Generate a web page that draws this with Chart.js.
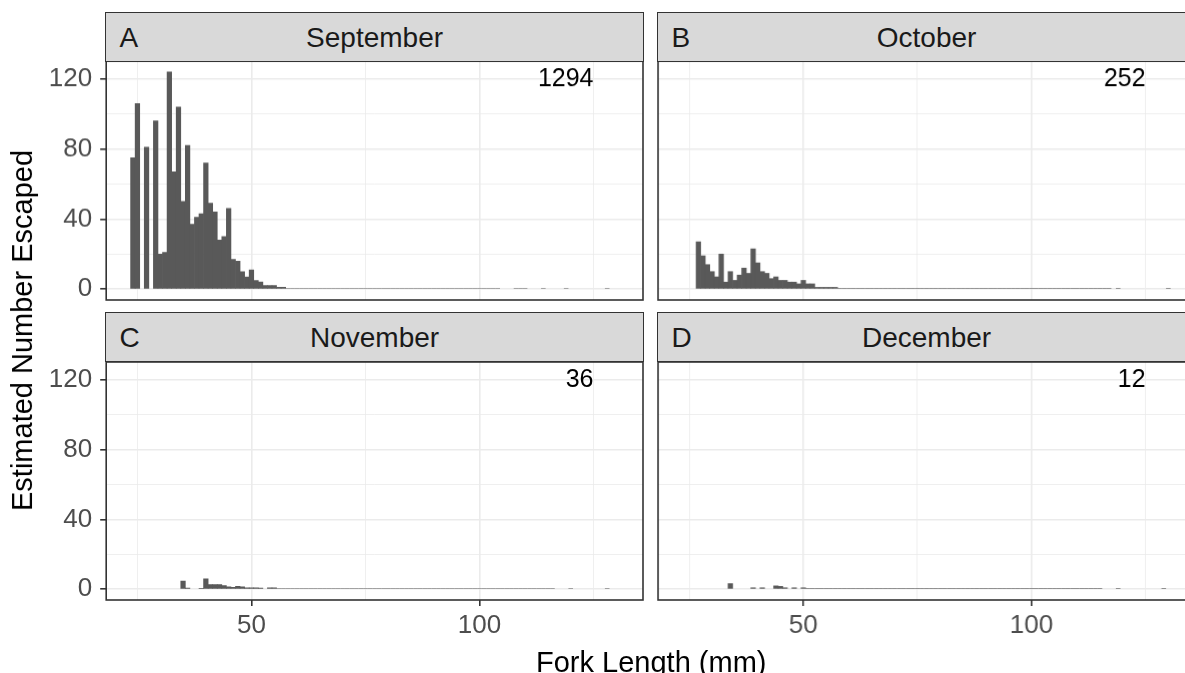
<!DOCTYPE html>
<html>
<head>
<meta charset="utf-8">
<script src="https://cdn.jsdelivr.net/npm/chart.js@4.4.0/dist/chart.umd.min.js"></script>
<style>
html,body{margin:0;padding:0;width:1185px;height:673px;overflow:hidden;background:#ffffff;font-family:"Liberation Sans",Arial,Helvetica,sans-serif;}
canvas{position:absolute;}
.strip{position:absolute;background:#D9D9D9;border:1.6px solid #333333;box-sizing:border-box;color:#1A1A1A;font-size:28px;line-height:28px;display:flex;align-items:center;justify-content:center;padding-top:2px;}
.strip .letter{position:absolute;left:13px;top:50%;transform:translateY(-50%);margin-top:1px;}
.title{position:absolute;color:#000;font-size:29px;line-height:29px;white-space:nowrap;}
</style>
</head>
<body>
<script>
// ---------- data ----------
const monthNames   = ['September', 'October', 'November', 'December'];
const panelLetters = ['A', 'B', 'C', 'D'];
const monthTotals  = [1294, 252, 36, 12];

const xGridValues = [25, 50, 75, 100, 125];
const xTickLabels = [50, 100];
const yGridValues = [0, 20, 40, 60, 80, 100, 120];
const yTickLabels = [0, 40, 80, 120];

const septLength = [24,25,27,29,30,31,32,33,34,35,36,37,38,39,40,41,42,43,44,45,46,47,48,49,50,51,52,53,54,55,56,57];
const septCount  = [75,106,81,96,20,21,124,67,104,50,82,37,41,43,72,49,44,28,30,46,17,16,10,7,11,5,4,2,2,2,1,1];
const septTailLength = [58,59,60,61,62,63,64,65,66,67,68,69,70,71,72,73,74,75,76,77,78,79,80,81,82,83,84,85,86,87,88,89,90,91,92,93,94,95,96,97,98,99,100,101,102,103,104,108,109,110,114,119,128];
const septTailCount  = [0.1,0.1,0.1,0.1,0.1,0.1,0.1,0.1,0.1,0.1,0.1,0.1,0.1,0.1,0.1,0.1,0.1,0.1,0.1,0.1,0.1,0.1,0.1,0.1,0.1,0.1,0.1,0.1,0.1,0.1,0.1,0.1,0.1,0.1,0.1,0.1,0.1,0.1,0.1,0.1,0.1,0.1,0.1,0.1,0.1,0.1,0.1,0.1,0.1,0.1,0.1,0.1,0.1];

const octLength = [27,28,29,30,31,32,33,34,35,36,37,38,39,40,41,42,43,44,45,46,47,48,49,50,51,52,53,54,55,56,57];
const octCount  = [27,19,14,10,7,20,4,10,5,8,12,9,23,15,10,9,6,7,5,5,4,4,3,5,3,3,1,1,1,1,1];
const octTailLength = [58,59,60,61,62,63,64,65,66,67,68,69,70,71,72,73,74,75,76,77,78,79,80,81,82,83,84,85,86,87,88,89,90,91,92,93,94,95,96,97,98,99,100,101,102,103,104,105,106,107,108,109,110,111,112,113,114,115,116,117,119,130];
const octTailCount  = [0.1,0.1,0.1,0.1,0.1,0.1,0.1,0.1,0.1,0.1,0.1,0.1,0.1,0.1,0.1,0.1,0.1,0.1,0.1,0.1,0.1,0.1,0.1,0.1,0.1,0.1,0.1,0.1,0.1,0.1,0.1,0.1,0.1,0.1,0.1,0.1,0.1,0.1,0.1,0.1,0.1,0.1,0.1,0.1,0.1,0.1,0.1,0.1,0.1,0.1,0.1,0.1,0.1,0.1,0.1,0.1,0.1,0.1,0.1,0.1,0.1,0.1];

const novLength = [35,36,39,40,41,42,43,44,45,46,47,48,49,50,51,52,54,55];
const novCount  = [4.6,0.6,0.5,5.9,2.7,2.7,2.7,2.1,1.3,1.0,1.7,1.3,0.8,0.8,0.8,0.6,0.8,0.8];
const novTailLength = [56,57,58,59,60,61,62,63,64,65,66,67,68,69,70,71,72,73,74,75,76,77,78,79,80,81,82,83,84,85,86,87,88,89,90,91,92,93,94,95,96,97,98,99,100,101,102,103,104,105,106,107,108,109,110,111,112,113,114,115,116,120,128];
const novTailCount  = [0.1,0.1,0.1,0.1,0.1,0.1,0.1,0.1,0.1,0.1,0.1,0.1,0.1,0.1,0.1,0.1,0.1,0.1,0.1,0.1,0.1,0.1,0.1,0.1,0.1,0.1,0.1,0.1,0.1,0.1,0.1,0.1,0.1,0.1,0.1,0.1,0.1,0.1,0.1,0.1,0.1,0.1,0.1,0.1,0.1,0.1,0.1,0.1,0.1,0.1,0.1,0.1,0.1,0.1,0.1,0.1,0.1,0.1,0.1,0.1,0.1,0.1,0.1];

const decLength = [34,39,41,44,45,46,48,50];
const decCount  = [3.2,0.8,0.8,1.9,1.6,0.8,0.8,0.8];
const decTailLength = [51,52,53,54,55,56,57,58,59,60,61,62,63,64,65,66,67,68,69,70,71,72,73,74,75,76,77,78,79,80,81,82,83,84,85,86,87,88,89,90,91,92,93,94,95,96,97,98,99,100,101,102,103,104,105,106,107,108,109,110,111,112,113,114,115,119,129];
const decTailCount  = [0.1,0.1,0.1,0.1,0.1,0.1,0.1,0.1,0.1,0.1,0.1,0.1,0.1,0.1,0.1,0.1,0.1,0.1,0.1,0.1,0.1,0.1,0.1,0.1,0.1,0.1,0.1,0.1,0.1,0.1,0.1,0.1,0.1,0.1,0.1,0.1,0.1,0.1,0.1,0.1,0.1,0.1,0.1,0.1,0.1,0.1,0.1,0.1,0.1,0.1,0.1,0.1,0.1,0.1,0.1,0.1,0.1,0.1,0.1,0.1,0.1,0.1,0.1,0.1,0.1,0.1,0.1];

// ---------- layout / style ----------
const X_MIN = 18.15, X_MAX = 135.85;
const Y_MIN = -6.2,  Y_MAX = 130.2;
const ANNOT_X = 125, ANNOT_Y = 120;
const FONT = '"Liberation Sans", Arial, Helvetica, sans-serif';
const colLeft = [106.2, 658.2];
const panelW = 536.8;
const rowTop = [61.2, 361.5];
const panelH = 238.5;
const stripH = 49.5;
const PAD = 8;

const borderPlugin = {
  id: 'panelBorder',
  afterDraw(chart) {
    const a = chart.chartArea, ctx = chart.ctx;
    ctx.save();
    ctx.strokeStyle = '#333333';
    ctx.lineWidth = 1.6;
    ctx.strokeRect(a.left, a.top, a.right - a.left, a.bottom - a.top);
    ctx.restore();
  }
};
const annotPlugin = {
  id: 'totalLabel',
  afterDatasetsDraw(chart, args, opts) {
    const ctx = chart.ctx;
    const x = chart.scales.x.getPixelForValue(ANNOT_X);
    const y = chart.scales.y.getPixelForValue(ANNOT_Y);
    ctx.save();
    ctx.fillStyle = '#000000';
    ctx.font = '25px ' + FONT;
    ctx.textAlign = 'right';
    ctx.textBaseline = 'middle';
    ctx.fillText(String(opts.text), x, y);
    ctx.restore();
  }
};

function zeroPad(s) { s.paddingTop = 0; s.paddingBottom = 0; s.paddingLeft = 0; s.paddingRight = 0; }

function makePanel(i, lengths, counts, tailLengths, tailCounts) {
  const col = i % 2, row = Math.floor(i / 2);
  const showY = col === 0, showX = row === 1;
  const cv = document.createElement('canvas');
  const left = col === 0 ? 0 : colLeft[col] - PAD;
  const yW = col === 0 ? colLeft[0] : 0;
  const padL = col === 0 ? 0 : PAD;
  const width = padL + yW + panelW + PAD;
  const xH = showX ? 60 : 0;
  const height = PAD + panelH + (showX ? xH : PAD);
  cv.width = width; cv.height = height;
  cv.style.left = left + 'px';
  cv.style.top = (rowTop[row] - PAD) + 'px';
  cv.style.width = width + 'px'; cv.style.height = height + 'px';
  document.body.appendChild(cv);

  // strip
  const st = document.createElement('div');
  st.className = 'strip';
  st.style.left = (colLeft[col] - 0.8) + 'px';
  st.style.top = (rowTop[row] - stripH) + 'px';
  st.style.width = (panelW + 1.6) + 'px';
  st.style.height = (stripH + 0.8) + 'px';
  st.innerHTML = '<span class="letter">' + panelLetters[i] + '</span><span>' + monthNames[i] + '</span>';
  document.body.appendChild(st);

  const main = lengths.map((x, k) => ({x: x, y: counts[k]}));
  const tail = tailLengths.map((x, k) => ({x: x, y: tailCounts[k]}));
  const data = main.concat(tail).sort((a, b) => a.x - b.x);

  new Chart(cv, {
    type: 'bar',
    data: {datasets: [{
      data: data,
      backgroundColor: '#595959',
      borderWidth: 0,
      barPercentage: 1,
      categoryPercentage: 1,
      inflateAmount: (c) => (c.raw && c.raw.y >= 0.4) ? 0.33 : 0
    }]},
    options: {
      responsive: false, animation: false, devicePixelRatio: 1,
      layout: {autoPadding: false, padding: {left: padL, right: PAD, top: PAD, bottom: showX ? 0 : PAD}},
      plugins: {legend: {display: false}, tooltip: {enabled: false}, totalLabel: {text: monthTotals[i]}},
      scales: {
        x: {
          type: 'linear', min: X_MIN, max: X_MAX, offset: false,
          afterBuildTicks: (s) => { s.ticks = xGridValues.map(v => ({value: v})); },
          afterFit: (s) => { s.height = xH; zeroPad(s); },
          border: {display: false},
          grid: {
            offset: false, color: '#EBEBEB',
            lineWidth: (c) => (c.tick && xTickLabels.includes(c.tick.value)) ? 1.6 : 0.8,
            drawTicks: showX, tickLength: 6, tickWidth: 1.6,
            tickColor: (c) => (c.tick && xTickLabels.includes(c.tick.value)) ? '#333333' : 'rgba(0,0,0,0)'
          },
          ticks: {
            display: showX, autoSkip: false, maxRotation: 0, padding: 4,
            color: '#4D4D4D', font: {family: FONT, size: 26},
            callback: (v) => xTickLabels.includes(v) ? String(v) : ''
          }
        },
        y: {
          type: 'linear', min: Y_MIN, max: Y_MAX,
          afterBuildTicks: (s) => { s.ticks = yGridValues.map(v => ({value: v})); },
          afterFit: (s) => { s.width = yW; zeroPad(s); },
          border: {display: false},
          grid: {
            color: '#EBEBEB',
            lineWidth: (c) => (c.tick && yTickLabels.includes(c.tick.value)) ? 1.6 : 0.8,
            drawTicks: showY, tickLength: 6, tickWidth: 1.6,
            tickColor: (c) => (c.tick && yTickLabels.includes(c.tick.value)) ? '#333333' : 'rgba(0,0,0,0)'
          },
          ticks: {
            display: showY, padding: 8,
            color: '#4D4D4D', font: {family: FONT, size: 26},
            callback: (v) => yTickLabels.includes(v) ? String(v) : ''
          }
        }
      }
    },
    plugins: [borderPlugin, annotPlugin]
  });
}

makePanel(0, septLength, septCount, septTailLength, septTailCount);
makePanel(1, octLength, octCount, octTailLength, octTailCount);
makePanel(2, novLength, novCount, novTailLength, novTailCount);
makePanel(3, decLength, decCount, decTailLength, decTailCount);

// axis titles
const xt = document.createElement('div');
xt.className = 'title';
xt.textContent = 'Fork Length (mm)';
document.body.appendChild(xt);
xt.style.left = (651 - xt.offsetWidth / 2) + 'px';
xt.style.top = '648px';

const yt = document.createElement('div');
yt.className = 'title';
yt.textContent = 'Estimated Number Escaped';
document.body.appendChild(yt);
const w = yt.offsetWidth;
yt.style.left = (22.5 - w / 2) + 'px';
yt.style.top = (330 - 14.5) + 'px';
yt.style.transform = 'rotate(-90deg)';
</script>
</body>
</html>
